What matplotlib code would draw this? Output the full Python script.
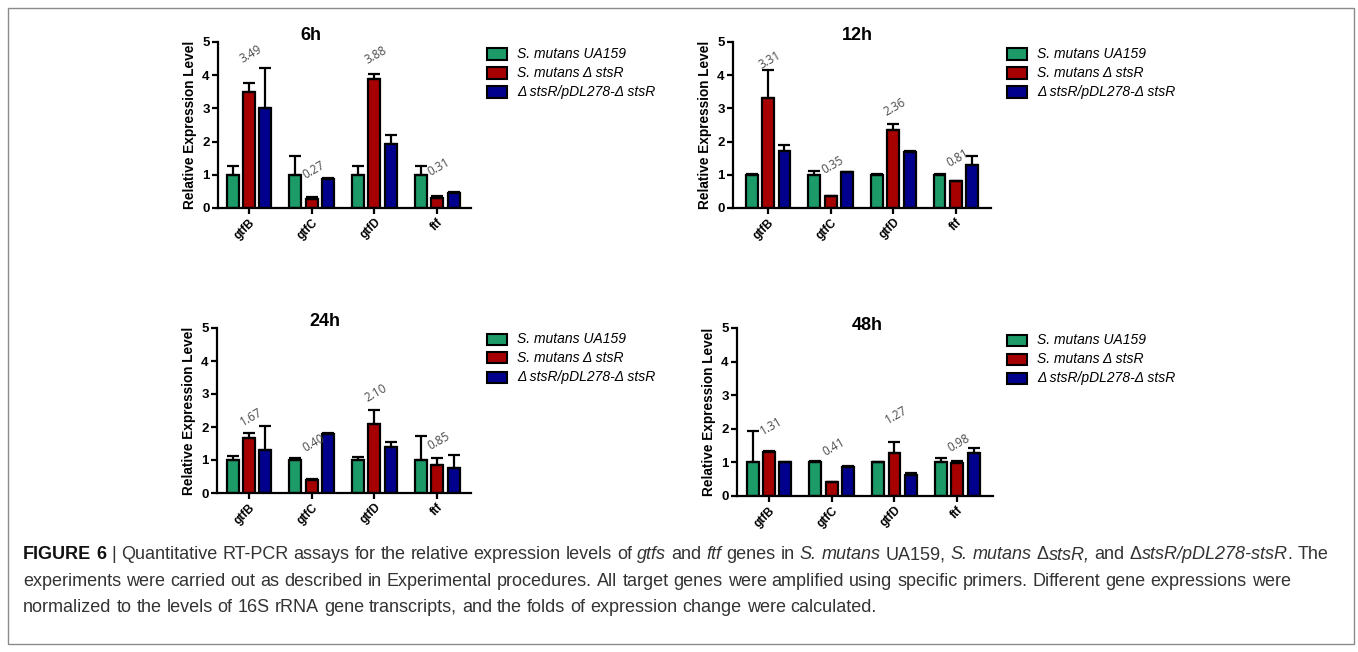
import matplotlib
matplotlib.use("Agg")
import matplotlib.pyplot as plt
from matplotlib.patches import Rectangle
from matplotlib import font_manager as fm
import numpy as np

# ---------------- data ----------------
genes = ["gtfB", "gtfC", "gtfD", "ftf"]
strains = ["S. mutans UA159", "S. mutans \u0394 stsR", "\u0394 stsR/pDL278-\u0394 stsR"]
times = ["6h", "12h", "24h", "48h"]

wt_6h = [1.00, 1.00, 1.00, 1.00]
wt_6h_err = [0.25, 0.58, 0.25, 0.25]
mut_6h = [3.49, 0.27, 3.88, 0.31]
mut_6h_err = [0.28, 0.05, 0.17, 0.04]
comp_6h = [3.00, 0.87, 1.92, 0.46]
comp_6h_err = [1.22, 0.02, 0.28, 0.02]

wt_12h = [1.00, 1.00, 1.00, 1.00]
wt_12h_err = [0.01, 0.10, 0.02, 0.03]
mut_12h = [3.31, 0.35, 2.36, 0.81]
mut_12h_err = [0.86, 0.01, 0.17, 0.01]
comp_12h = [1.73, 1.07, 1.68, 1.30]
comp_12h_err = [0.17, 0.02, 0.03, 0.27]

wt_24h = [1.00, 1.00, 1.00, 1.00]
wt_24h_err = [0.13, 0.05, 0.08, 0.72]
mut_24h = [1.67, 0.40, 2.10, 0.85]
mut_24h_err = [0.15, 0.01, 0.42, 0.20]
comp_24h = [1.30, 1.78, 1.38, 0.76]
comp_24h_err = [0.73, 0.03, 0.17, 0.38]

wt_48h = [1.00, 1.00, 1.00, 1.00]
wt_48h_err = [0.93, 0.05, 0.01, 0.13]
mut_48h = [1.31, 0.41, 1.27, 0.98]
mut_48h_err = [0.02, 0.02, 0.35, 0.06]
comp_48h = [1.00, 0.85, 0.62, 1.27]
comp_48h_err = [0.01, 0.05, 0.05, 0.17]

# fold-change labels (text shown above the mutant bars) and their heights
fold_6h = ["3.49", "0.27", "3.88", "0.31"]
fold_12h = ["3.31", "0.35", "2.36", "0.81"]
fold_24h = ["1.67", "0.40", "2.10", "0.85"]
fold_48h = ["1.31", "0.41", "1.27", "0.98"]
fold_y_6h = [4.64, 1.14, 4.60, 1.23]
fold_y_12h = [4.46, 1.30, 3.04, 1.50]
fold_y_24h = [2.30, 1.50, 3.03, 1.58]
fold_y_48h = [2.08, 1.46, 2.41, 1.58]

yticks = [0, 1, 2, 3, 4, 5]

# ---------------- style ----------------
W, H = 1358, 652
colors = ["#1c9a68", "#a60000", "#00008c"]
AX_FONT = "Liberation Sans"

fig = plt.figure(figsize=(W / 100, H / 100), dpi=100)
fig.patch.set_facecolor("white")


def fx(px):
    return px / W


def fy(py):
    return 1 - py / H


panels = [
    dict(t="6h", box=(218, 471, 208, 42), xl=(-0.494, 3.54), title=(311, 36), leg=(487, 54),
         d=(wt_6h, wt_6h_err, mut_6h, mut_6h_err, comp_6h, comp_6h_err), f=fold_6h, fyv=fold_y_6h),
    dict(t="12h", box=(733, 991, 208, 42), xl=(-0.56, 3.56), title=(857, 36), leg=(1007, 54),
         d=(wt_12h, wt_12h_err, mut_12h, mut_12h_err, comp_12h, comp_12h_err), f=fold_12h, fyv=fold_y_12h),
    dict(t="24h", box=(217, 471, 493, 328), xl=(-0.51, 3.54), title=(325, 322), leg=(487, 339),
         d=(wt_24h, wt_24h_err, mut_24h, mut_24h_err, comp_24h, comp_24h_err), f=fold_24h, fyv=fold_y_24h),
    dict(t="48h", box=(737, 993, 496, 328), xl=(-0.51, 3.57), title=(867, 325), leg=(1007, 340),
         d=(wt_48h, wt_48h_err, mut_48h, mut_48h_err, comp_48h, comp_48h_err), f=fold_48h, fyv=fold_y_48h),
]

bw = 0.19
pitch = 0.262
x = np.arange(len(genes))

for p in panels:
    l, r, y0, y5 = p["box"]
    ax = fig.add_axes([fx(l), fy(y0), (r - l) / W, (y0 - y5) / H])
    ax.set_facecolor("none")
    vals = p["d"]
    for k in range(3):
        v = vals[2 * k]
        e = vals[2 * k + 1]
        xs = x + (k - 1) * pitch
        ax.bar(xs, v, width=bw, color=colors[k], edgecolor="black", linewidth=1.6, zorder=2)
        ax.errorbar(xs, v, yerr=[np.zeros(len(e)), e], fmt="none", ecolor="black",
                    elinewidth=1.6, capsize=4, capthick=1.6, zorder=3)
    for i, (txt, yy) in enumerate(zip(p["f"], p["fyv"])):
        ax.text(x[i] + 0.03, yy, txt, rotation=30, ha="center", va="center",
                fontsize=8.5, color="#4a4a4a", family="Open Sans", zorder=4)
    ax.set_xlim(*p["xl"])
    ax.set_ylim(0, 5)
    ax.set_yticks(yticks)
    ax.set_yticklabels([str(t) for t in yticks], fontsize=9.5, fontweight="bold", family=AX_FONT)
    ax.set_xticks(x)
    ax.set_xticklabels(genes, rotation=45, ha="right", va="top", rotation_mode="anchor",
                       fontsize=8.5, fontweight="bold", family=AX_FONT)
    for s in ["top", "right"]:
        ax.spines[s].set_visible(False)
    for s in ["left", "bottom"]:
        ax.spines[s].set_linewidth(1.6)
    ax.tick_params(axis="both", direction="out", length=4, width=1.6, pad=2, colors="black")
    ax.set_ylabel("Relative Expression Level", fontsize=9.8, fontweight="bold", family=AX_FONT)
    ax.yaxis.set_label_coords(-21 / (r - l), 0.5)
    tx, ty = p["title"]
    fig.text(fx(tx), fy(ty), p["t"], ha="center", va="center", fontsize=13,
             fontweight="bold", family=AX_FONT)
    lx, ly = p["leg"]
    for k in range(3):
        yy = ly + k * 19
        fig.patches.append(Rectangle((fx(lx), fy(yy + 5.5)), 20 / W, 11 / H,
                                     transform=fig.transFigure, facecolor=colors[k],
                                     edgecolor="black", linewidth=1.5))
        fig.text(fx(lx + 30), fy(yy), strains[k], ha="left", va="center", fontsize=10,
                 style="italic", family=AX_FONT)

# outer frame
fig.patches.append(Rectangle((fx(8), fy(644)), (1354 - 8) / W, (644 - 8) / H,
                             transform=fig.transFigure, facecolor="none",
                             edgecolor="#8a8a8a", linewidth=1.0))

# ---------------- caption ----------------
names = {f.name for f in fm.fontManager.ttflist}
cap_family = "Liberation Sans Narrow" if "Liberation Sans Narrow" in names else "Liberation Sans"

cap_lines = [
    [("FIGURE 6", "b"), (" | ", "n"),
     ("Quantitative RT-PCR assays for the relative expression levels of ", "n"),
     ("gtfs", "i"), (" and ", "n"), ("ftf", "i"), (" genes in ", "n"),
     ("S. mutans", "i"), (" UA159, ", "n"), ("S. mutans", "i"), (" \u0394", "n"),
     ("stsR,", "i"), (" and \u0394", "n"), ("stsR/pDL278-stsR", "i"), (". The", "n")],
    [("experiments were carried out as described in Experimental procedures. All target genes "
      "were amplified using specific primers. Different gene expressions were", "n")],
    [("normalized to the levels of 16S rRNA gene transcripts, and the folds of expression "
      "change were calculated.", "n")],
]
cap_baselines = [559, 586, 612]
renderer = fig.canvas.get_renderer()


def style_kw(st, size):
    kw = dict(fontsize=size, family=cap_family, color="#333333")
    if st == "b":
        kw["fontweight"] = "bold"
        kw["color"] = "#111111"
    if st == "i":
        kw["style"] = "italic"
    return kw


def text_w(s, st, size):
    t = fig.text(0, 0, s, **style_kw(st, size))
    w = t.get_window_extent(renderer).width
    t.remove()
    return w


def layout(line, size, y=None):
    sp = text_w("a a", "n", size) - text_w("aa", "n", size)
    xpos = 23.0
    for txt, st in line:
        parts = txt.split(" ")
        for i, part in enumerate(parts):
            if i > 0:
                xpos += sp
            if part:
                if y is not None:
                    fig.text(fx(xpos), fy(y), part, ha="left", va="baseline", **style_kw(st, size))
                xpos += text_w(part, st, size)
    return xpos


base = 10.0
w1 = layout(cap_lines[0], base) - 23.0
size = base * (1335 - 23) / w1
for line, yb in zip(cap_lines, cap_baselines):
    layout(line, size, yb)

fig.savefig("out.png", dpi=100)
